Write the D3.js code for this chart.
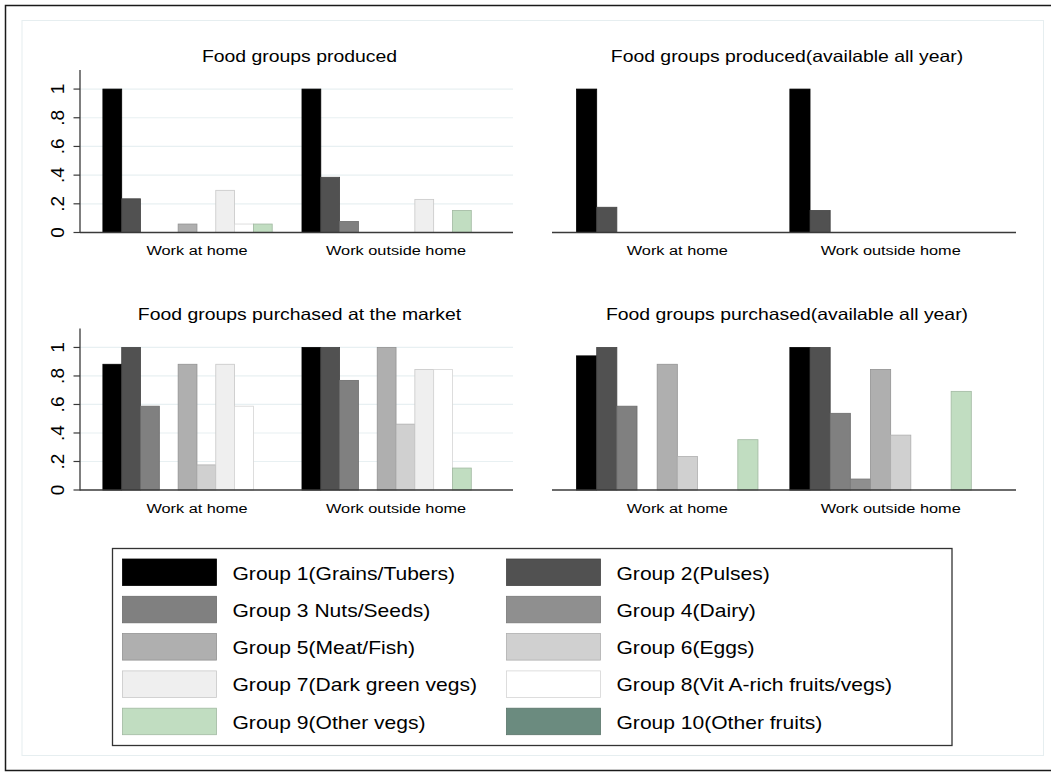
<!DOCTYPE html>
<html>
<head>
<meta charset="utf-8">
<script src="https://cdn.jsdelivr.net/npm/d3@7"></script>
<style>
  html, body { margin: 0; padding: 0; background: #fff; }
  text { font-family: "Liberation Sans", Arial, sans-serif; fill: #000; }
</style>
</head>
<body>
<div id="chart"></div>
<script>
// Dados
const categories = ["Work at home", "Work outside home"];
const groupNames = [
  "Group 1(Grains/Tubers)", "Group 2(Pulses)", "Group 3 Nuts/Seeds)", "Group 4(Dairy)",
  "Group 5(Meat/Fish)", "Group 6(Eggs)", "Group 7(Dark green vegs)",
  "Group 8(Vit A-rich fruits/vegs)", "Group 9(Other vegs)", "Group 10(Other fruits)"
];
const panelTitles = [
  "Food groups produced", "Food groups produced(available all year)",
  "Food groups purchased at the market", "Food groups purchased(available all year)"
];

// valores por grupo (1..10), um array por categoria
const producedHome = [1, 0.235, 0, 0, 0.059, 0, 0.294, 0.059, 0.059, 0];
const producedOutside = [1, 0.385, 0.077, 0, 0, 0, 0.231, 0, 0.154, 0];
const producedYearHome = [1, 0.176, 0, 0, 0, 0, 0, 0, 0, 0];
const producedYearOutside = [1, 0.154, 0, 0, 0, 0, 0, 0, 0, 0];
const purchasedHome = [0.882, 1, 0.588, 0, 0.882, 0.176, 0.882, 0.588, 0, 0];
const purchasedOutside = [1, 1, 0.769, 0, 1, 0.462, 0.846, 0.846, 0.154, 0];
const purchasedYearHome = [0.941, 1, 0.588, 0, 0.882, 0.235, 0, 0, 0.353, 0];
const purchasedYearOutside = [1, 1, 0.538, 0.077, 0.846, 0.385, 0, 0, 0.692, 0];

const yTicks = [0, 0.2, 0.4, 0.6, 0.8, 1];
const yTickLabels = ["0", ".2", ".4", ".6", ".8", "1"];

// Cores das barras (esquema cinza do Stata)
const groupColors = ["#000000", "#515151", "#808080", "#8f8f8f", "#afafaf",
  "#d0d0d0", "#efefef", "#ffffff", "#c1ddc1", "#6b8b7f"];

const W = 1051, H = 773;
const xStretch = 1.19; // o texto original está esticado na horizontal

const svg = d3.select("#chart").append("svg")
  .attr("width", W).attr("height", H);

// molduras
svg.append("rect").attr("x", 5.5).attr("y", 5.5).attr("width", 1070).attr("height", 765)
  .attr("fill", "#fff").attr("stroke", "#1a1a1a").attr("stroke-width", 1.5);
svg.append("rect").attr("x", 22).attr("y", 20.5).attr("width", 1021.5).attr("height", 735)
  .attr("fill", "none").attr("stroke", "#e6eef0").attr("stroke-width", 1);

function addText(parent, x, y, str, size, anchor, rotate, sx) {
  const s = sx === undefined ? xStretch : sx;
  return parent.append("text")
    .attr("transform", `translate(${x},${y}) scale(${s},1)` + (rotate ? ` rotate(${rotate})` : ""))
    .attr("text-anchor", anchor || "start")
    .style("font-size", size + "px")
    .text(str);
}

const panels = [
  { title: panelTitles[0], values: [producedHome, producedOutside], x0: 80, x1: 513, base: 232.5, top: 70, axis: true },
  { title: panelTitles[1], values: [producedYearHome, producedYearOutside], x0: 552, x1: 1016, base: 232.5, top: 70, axis: false },
  { title: panelTitles[2], values: [purchasedHome, purchasedOutside], x0: 80, x1: 513, base: 490, top: 328.5, axis: true },
  { title: panelTitles[3], values: [purchasedYearHome, purchasedYearOutside], x0: 552, x1: 1016, base: 490, top: 328.5, axis: false },
];

panels.forEach(p => {
  const g = svg.append("g");
  const x = d3.scaleBand().domain(categories).range([p.x0, p.x1])
    .paddingInner(0.055).paddingOuter(0.115);
  const xi = d3.scaleBand().domain(d3.range(groupNames.length)).range([0, x.bandwidth()]);
  const y = d3.scaleLinear().domain([0, 1.133]).range([p.base, p.top]);

  // linhas de grade
  if (p.axis) {
    g.selectAll(".grid").data(yTicks.filter(t => t > 0)).join("line")
      .attr("x1", p.x0).attr("x2", p.x1)
      .attr("y1", d => y(d)).attr("y2", d => y(d))
      .attr("stroke", "#e8f0f2").attr("stroke-width", 1.2);
  }

  // barras
  categories.forEach((c, ci) => {
    g.selectAll(null).data(p.values[ci].map((v, i) => ({ v, i })).filter(d => d.v > 0))
      .join("rect")
      .attr("x", d => x(c) + xi(d.i))
      .attr("width", xi.bandwidth())
      .attr("y", d => y(d.v))
      .attr("height", d => y(0) - y(d.v))
      .attr("fill", d => groupColors[d.i])
      .attr("stroke", d => d3.color(groupColors[d.i]).darker(0.5))
      .attr("stroke-width", 0.8);
  });

  // eixo x
  g.append("line").attr("x1", p.x0).attr("x2", p.x1)
    .attr("y1", p.base).attr("y2", p.base)
    .attr("stroke", "#3a3a3a").attr("stroke-width", 1.3);
  categories.forEach(c => addText(g, x(c) + x.bandwidth() / 2, p.base + 22.5, c, 13.7, "middle"));

  // eixo y
  if (p.axis) {
    g.append("line").attr("x1", p.x0).attr("x2", p.x0)
      .attr("y1", p.base + 0.6).attr("y2", p.top)
      .attr("stroke", "#3a3a3a").attr("stroke-width", 1.3);
    yTicks.forEach((t, i) => {
      g.append("line").attr("x1", p.x0 - 6.5).attr("x2", p.x0)
        .attr("y1", y(t)).attr("y2", y(t))
        .attr("stroke", "#3a3a3a").attr("stroke-width", 1.2);
      addText(g, p.x0 - 16.5, y(t), yTickLabels[i], 19, "middle", -90, 1);
    });
  }

  // título
  addText(g, (p.x0 + p.x1) / 2 + 3, p.top - 8.5, p.title, 16.3, "middle");
});

// legenda
const leg = svg.append("g");
leg.append("rect").attr("x", 112.5).attr("y", 548.5).attr("width", 839.5).attr("height", 197)
  .attr("fill", "#fff").attr("stroke", "#333").attr("stroke-width", 1.3);
groupNames.forEach((name, i) => {
  const col = i % 2, row = Math.floor(i / 2);
  const sx = col === 0 ? 122.5 : 506.5;
  const sy = 559 + row * 37.3;
  leg.append("rect").attr("x", sx).attr("y", sy).attr("width", 94).attr("height", 26.5)
    .attr("fill", groupColors[i])
    .attr("stroke", d3.color(groupColors[i]).darker(0.5)).attr("stroke-width", 0.8);
  addText(leg, sx + 110, sy + 20.5, name, 17.7, "start");
});
</script>
</body>
</html>
